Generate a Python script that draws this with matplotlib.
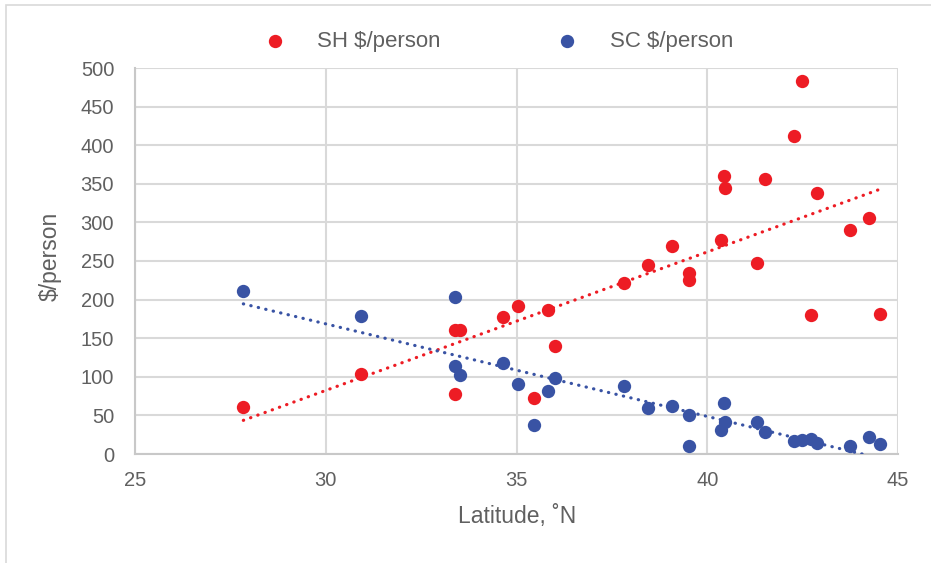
import matplotlib
matplotlib.use("Agg")
import matplotlib.pyplot as plt
from matplotlib.patches import Rectangle
import numpy as np

# Data
latitude = [27.84, 30.92, 33.39, 33.39, 33.52, 34.65, 35.05, 35.47, 35.83, 36.01,
            37.83, 38.44, 39.08, 39.53, 39.53, 40.36, 40.44, 40.47, 41.30, 41.51,
            42.27, 42.48, 42.73, 42.88, 43.73, 44.25, 44.53]
sh_per_person = [61, 104, 160, 78, 160, 177, 192, 73, 187, 140,
                 222, 245, 270, 234, 225, 277, 360, 345, 247, 356,
                 412, 483, 180, 338, 290, 306, 181]
sc_per_person = [211, 179, 203, 114, 102, 118, 91, 37, 82, 98,
                 88, 59, 62, 50, 10, 31, 66, 41, 41, 29,
                 17, 18, 19, 14, 10, 22, 13]

RED = '#ed1c24'
BLUE = '#3953a4'
TEXT = '#606060'
GRID = '#d9d9d9'

plt.rcParams['font.family'] = ['Liberation Sans', 'DejaVu Sans']

fig = plt.figure(figsize=(9.31, 5.63), dpi=100)
ax = fig.add_axes([135 / 931, 1 - 454 / 563, (898 - 135) / 931, (454 - 68) / 563])

# chart border (top and left visible in reference)
fig.patches.append(Rectangle((6 / 931, -0.1), 1.2, 1.1 - 5 / 563,
                             transform=fig.transFigure, fill=False,
                             edgecolor=GRID, linewidth=1.2))

# linear trendlines
x = np.array(latitude)
xs = np.array([x.min(), x.max()])
for ys, color in [(sh_per_person, RED), (sc_per_person, BLUE)]:
    slope, icpt = np.polyfit(x, ys, 1)
    ax.plot(xs, slope * xs + icpt, color=color, linewidth=2.3,
            linestyle=(0, (0.1, 2.3)), dash_capstyle='round', zorder=3)

ax.scatter(latitude, sh_per_person, s=92, color=RED, label='SH $/person', zorder=4, linewidths=0)
ax.scatter(latitude, sc_per_person, s=92, color=BLUE, label='SC $/person', zorder=4, linewidths=0)

ax.set_xlim(25, 45)
ax.set_ylim(0, 500)
ax.set_xticks(range(25, 46, 5))
ax.set_yticks(range(0, 501, 50))
ax.grid(True, color=GRID, linewidth=1.5)
ax.set_axisbelow(True)
for side in ['top', 'right']:
    ax.spines[side].set_visible(False)
for side in ['left', 'bottom']:
    ax.spines[side].set_color('#c8c8c8')
    ax.spines[side].set_linewidth(1.5)
ax.tick_params(length=0, labelsize=14.5, labelcolor=TEXT)
ax.tick_params(axis='y', pad=15)
ax.tick_params(axis='x', pad=12)

ax.set_xlabel('Latitude, ˚N', fontsize=16.5, color=TEXT, va='center')
ax.xaxis.set_label_coords(0.5007, -0.163)
ax.set_ylabel('$/person', fontsize=16.5, color=TEXT, va='center')
ax.yaxis.set_label_coords(-0.111, 0.512)

leg = ax.legend(loc='center', bbox_to_anchor=(0.469, 1.069), ncol=2, frameon=False,
                fontsize=16, labelcolor=TEXT, handlelength=2.0, handletextpad=0.9,
                columnspacing=4.7)

fig.savefig('out.png', dpi=100)
